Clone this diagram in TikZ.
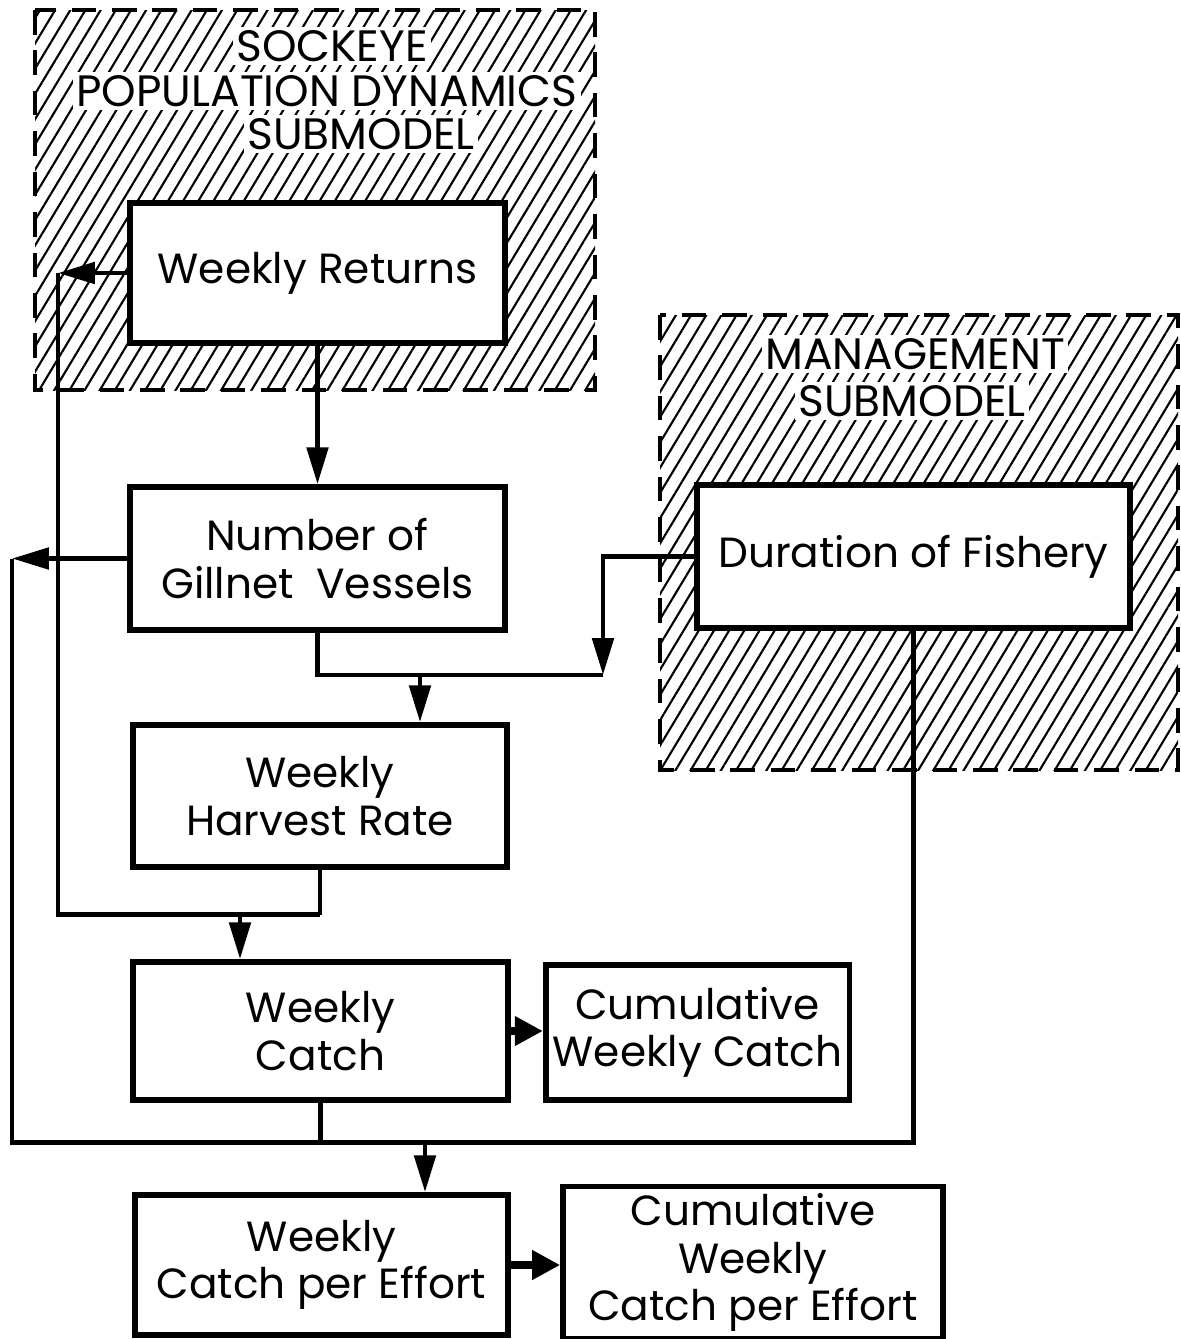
\documentclass[tikz,border=0pt]{standalone}
\usepackage{fontspec}
\setmainfont{Poppins}
\usetikzlibrary{arrows.meta,patterns.meta,calc}

\begin{document}
\begin{tikzpicture}[
    box/.style={draw,line width=1.6pt,fill=white,align=center,inner sep=2pt,font=\fontsize{12}{13.5}\selectfont},
    arr/.style={line width=1.4pt,-{Triangle[length=10.5pt,width=6pt]}},
    bigarr/.style={line width=2.4pt,-{Triangle[length=8pt,width=8pt]}},
    link/.style={line width=1.4pt},
    submodel/.style={line width=0.9pt,dash pattern=on 7pt off 4.5pt,pattern={Lines[angle=59,distance=3.7pt,line width=0.6pt]}},
    subtitle/.style={fill=white,inner sep=1pt,font=\fontsize{12.5}{14}\selectfont}
]
    \useasboundingbox (0,0) rectangle (11.8,-13.39);
    % SUBMODELS ==============================================
    \draw[submodel] (0.35,-0.10) rectangle (5.95,-3.90);
    \draw[submodel] (6.60,-3.15) rectangle (11.78,-7.70);
    \node[subtitle] (sock1) at (3.32,-0.46) {SOCKEYE};
    \node[subtitle] (sock2) at (3.27,-0.91) {POPULATION DYNAMICS};
    \node[subtitle] (sock3) at (3.61,-1.34) {SUBMODEL};
    \node[subtitle] (man1)  at (9.15,-3.54) {MANAGEMENT};
    \node[subtitle] (man2)  at (9.12,-4.01) {SUBMODEL};
    % BOXES ==================================================
    \node[box,minimum width=3.75cm,minimum height=1.40cm] (ret)   at (3.175,-2.73)  {Weekly Returns};
    \node[box,minimum width=3.75cm,minimum height=1.43cm] (gill)  at (3.175,-5.585) {Number of\\Gillnet\ \ Vessels};
    \node[box,minimum width=4.33cm,minimum height=1.43cm] (dur)   at (9.135,-5.565) {Duration of Fishery};
    \node[box,minimum width=3.74cm,minimum height=1.42cm] (harv)  at (3.20,-7.96)   {Weekly\\Harvest Rate};
    \node[box,minimum width=3.75cm,minimum height=1.38cm] (catch) at (3.205,-10.31) {Weekly\\Catch};
    \node[box,minimum width=2.81cm,minimum height=1.35cm] (cumc)  at (6.975,-10.325) {Cumulative\\Weekly Catch};
    \node[box,minimum width=3.73cm,minimum height=1.40cm] (cpue)  at (3.215,-12.65) {Weekly\\Catch per Effort};
    \node[box,minimum width=3.80cm,minimum height=1.45cm] (cumcp) at (7.53,-12.625) {Cumulative\\Weekly\\Catch per Effort};
    % returns -> gillnet, returns + harvest -> catch
    \draw[arr] (ret) -- (gill);
    \coordinate (retL)    at (0.58,-2.73);
    \coordinate (harvJ)   at ($(harv.south)+(0,-0.45)$);
    \coordinate (catchIn) at (2.40,-9.12);
    \draw[arr] (ret.west) -- (retL);
    \draw[link] (retL) |- (harvJ);
    \draw[link] (harv.south) -- (harvJ);
    \draw[arr] (catchIn) -- (catchIn |- catch.north);
    % gillnet + duration -> harvest
    \coordinate (durJ)   at (6.03,-6.75);
    \coordinate (harvIn) at (4.20,-6.75);
    \draw[link] (gill.south) |- (durJ);
    \draw[arr] (dur.west) -| (durJ);
    \draw[arr] (harvIn) -- (harvIn |- harv.north);
    % gillnet + catch + duration -> catch per effort
    \coordinate (gillL)  at (0.12,-5.585);
    \coordinate (busJ)   at ($(catch.south)+(0,-0.40)$);
    \coordinate (cpueIn) at (4.25,-11.40);
    \draw[arr] (gill.west) -- (gillL);
    \draw[link] (gillL) |- (busJ);
    \draw[link] (catch.south) -- (busJ);
    \draw[link] (dur.south) |- (busJ);
    \draw[arr] (cpueIn) -- (cpueIn |- cpue.north);
    % cumulative
    \draw[bigarr] (catch.east) -- (catch.east -| cumc.west);
    \draw[bigarr] (cpue.east) -- (cpue.east -| cumcp.west);
\end{tikzpicture}
\end{document}
